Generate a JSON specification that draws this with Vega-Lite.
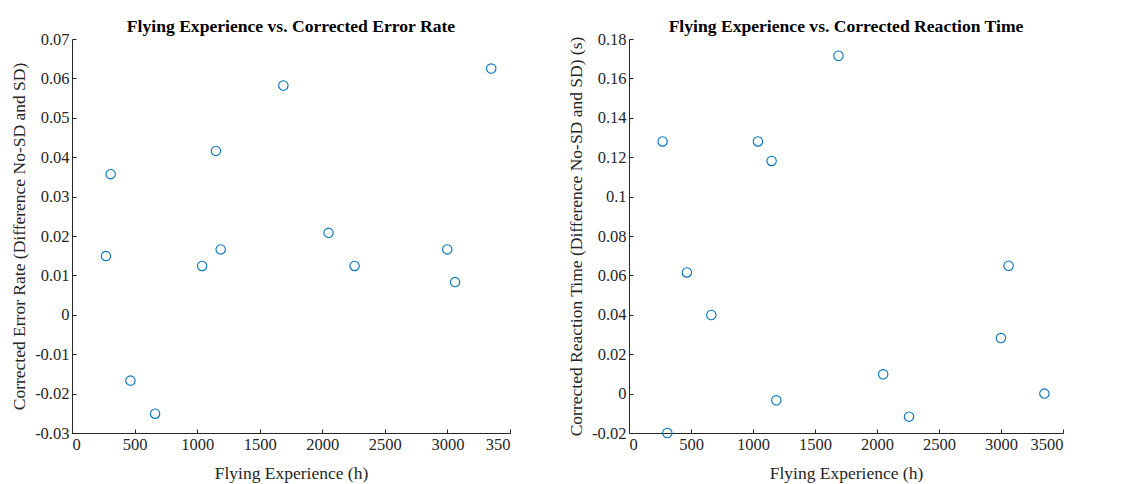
{
  "$schema": "https://vega.github.io/schema/vega-lite/v6.json",
  "background": "white",
  "padding": {"left": 10, "top": 18, "right": 5, "bottom": 2},
  "data": {"values": [
    {"exp": 271, "err": 0.0149, "rt": 0.128},
    {"exp": 309, "err": 0.0357, "rt": -0.02},
    {"exp": 467, "err": -0.0167, "rt": 0.0615},
    {"exp": 664, "err": -0.0251, "rt": 0.0399},
    {"exp": 1040, "err": 0.0124, "rt": 0.128},
    {"exp": 1150, "err": 0.0416, "rt": 0.1181},
    {"exp": 1188, "err": 0.0166, "rt": -0.0034},
    {"exp": 1689, "err": 0.0582, "rt": 0.1715},
    {"exp": 2050, "err": 0.0208, "rt": 0.0098},
    {"exp": 2258, "err": 0.0124, "rt": -0.0117},
    {"exp": 2999, "err": 0.0166, "rt": 0.0282},
    {"exp": 3061, "err": 0.0083, "rt": 0.0649},
    {"exp": 3350, "err": 0.0625, "rt": 0.0}
  ]},
  "config": {
    "font": "Liberation Serif",
    "view": {"stroke": null},
    "axis": {
      "grid": false,
      "domainColor": "#262626",
      "tickColor": "#262626",
      "labelColor": "#262626",
      "titleColor": "#262626",
      "labelFont": "Liberation Serif",
      "titleFont": "Liberation Serif",
      "labelFontSize": 16.5,
      "titleFontSize": 17.5,
      "titleFontWeight": "normal",
      "tickSize": -4,
      "labelPadding": 7,
      "domainWidth": 1,
      "tickWidth": 1
    },
    "title": {"font": "Liberation Serif", "fontSize": 17.6, "fontWeight": "bold", "color": "#000000", "offset": -5, "frame": "group"}
  },
  "bounds": "flush",
  "spacing": 119,
  "hconcat": [
    {
      "width": 438,
      "height": 394,
      "title": "Flying Experience vs. Corrected Error Rate",
      "mark": {"type": "point", "shape": "circle", "filled": false, "color": "#0072BD", "size": 88, "strokeWidth": 1.1, "opacity": 1},
      "encoding": {
        "x": {"field": "exp", "type": "quantitative", "title": "Flying Experience (h)",
          "scale": {"domain": [0, 3500], "nice": false, "zero": false},
          "axis": {"values": [0, 500, 1000, 1500, 2000, 2500, 3000, 3500], "labelExpr": "datum.value == 3500 ? '350' : format(datum.value, 'd')", "titlePadding": 12}},
        "y": {"field": "err", "type": "quantitative", "title": "Corrected Error Rate (Difference No-SD and SD)",
          "scale": {"domain": [-0.03, 0.07], "nice": false, "zero": false},
          "axis": {"values": [-0.03, -0.02, -0.01, 0, 0.01, 0.02, 0.03, 0.04, 0.05, 0.06, 0.07], "labelExpr": "replace(format(datum.value, '.2~f'), '\u2212', '-')", "titlePadding": 6}}
      }
    },
    {
      "width": 434,
      "height": 394,
      "title": "Flying Experience vs. Corrected Reaction Time",
      "mark": {"type": "point", "shape": "circle", "filled": false, "color": "#0072BD", "size": 88, "strokeWidth": 1.1, "opacity": 1},
      "encoding": {
        "x": {"field": "exp", "type": "quantitative", "title": "Flying Experience (h)",
          "scale": {"domain": [0, 3500], "nice": false, "zero": false},
          "axis": {"values": [0, 500, 1000, 1500, 2000, 2500, 3000, 3500], "format": "d", "titlePadding": 12}},
        "y": {"field": "rt", "type": "quantitative", "title": "Corrected Reaction Time (Difference No-SD and SD) (s)",
          "scale": {"domain": [-0.02, 0.18], "nice": false, "zero": false},
          "axis": {"values": [-0.02, 0, 0.02, 0.04, 0.06, 0.08, 0.1, 0.12, 0.14, 0.16, 0.18], "labelExpr": "replace(format(datum.value, '.2~f'), '\u2212', '-')", "titlePadding": 6}}
      }
    }
  ]
}
